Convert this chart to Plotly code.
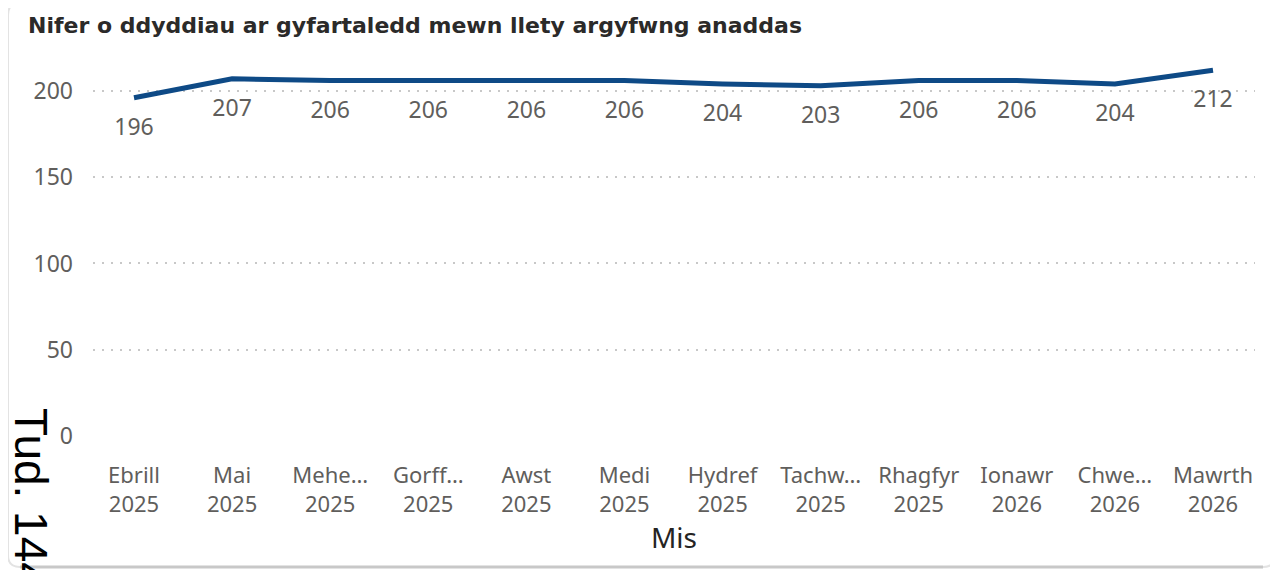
import plotly.graph_objects as go

months = ["Ebrill<br>2025", "Mai<br>2025", "Mehe…<br>2025", "Gorff…<br>2025", "Awst<br>2025",
          "Medi<br>2025", "Hydref<br>2025", "Tachw…<br>2025", "Rhagfyr<br>2025", "Ionawr<br>2026",
          "Chwe…<br>2026", "Mawrth<br>2026"]
values = [196, 207, 206, 206, 206, 206, 204, 203, 206, 206, 204, 212]
y_ticks = [0, 50, 100, 150, 200]

# page body adds an 8px offset; work in screen pixels and shift
OFF = 8
W, H = 1270, 562
L, R, T, B = 85, 23, 57, 134
PW, PH = W - L - R, H - T - B


def px(x):  # screen x -> paper
    return (x - OFF - L) / PW


def py(y):  # screen y -> paper
    return (H - B - (y - OFF)) / PH


fig = go.Figure()
fig.add_trace(go.Scatter(
    x=list(range(len(months))), y=values, mode="lines",
    line=dict(color="#0E4A86", width=5), hoverinfo="skip",
))
fig.add_trace(go.Scatter(
    x=list(range(len(months))), y=values, mode="markers+text",
    marker=dict(size=30, color="rgba(0,0,0,0)"),
    text=[str(v) for v in values], textposition="bottom center",
    textfont=dict(family="Noto Sans", size=23, color="#605E5C"),
    hoverinfo="skip", cliponaxis=False,
))

fig.update_layout(
    width=W, height=H,
    margin=dict(l=L, r=R, t=T, b=B),
    paper_bgcolor="white", plot_bgcolor="white",
    showlegend=False,
    title=dict(text="Nifer o ddyddiau ar gyfartaledd mewn llety argyfwng anaddas",
               x=(28 - OFF) / W, xref="container", xanchor="left", y=1 - 10 / H, yref="container", yanchor="top",
               font=dict(family="DejaVu Sans", size=22, color="#2B2A29", weight="bold")),
    xaxis=dict(tickmode="array", tickvals=list(range(len(months))), ticktext=months,
               range=[-0.418, len(months) - 1 + 0.428], showgrid=False, zeroline=False, showline=False,
               tickfont=dict(family="Noto Sans", size=22, color="#605E5C"), ticks="",
               ticklabelstandoff=24, automargin=False,
               title=dict(text="Mis", font=dict(family="Noto Sans", size=28, color="#252423"), standoff=8)),
    yaxis=dict(range=[0, 215], tickvals=y_ticks, showgrid=True, gridcolor="#C8C8C8",
               griddash="2px,7px", gridwidth=1.5, zeroline=False, showline=False, ticks="",
               tickfont=dict(family="Noto Sans", size=23, color="#605E5C"), ticklabelstandoff=19,
               automargin=False),
)

# card border with rounded corners
x0, x1, y0, y1, r = 8, 1275, 3, 567, 12
path = (f"M {px(x0 + r)} {py(y0)} L {px(x1 - r)} {py(y0)} "
        f"Q {px(x1)} {py(y0)} {px(x1)} {py(y0 + r)} L {px(x1)} {py(y1 - r)} "
        f"Q {px(x1)} {py(y1)} {px(x1 - r)} {py(y1)} L {px(x0 + r)} {py(y1)} "
        f"Q {px(x0)} {py(y1)} {px(x0)} {py(y1 - r)} L {px(x0)} {py(y0 + r)} "
        f"Q {px(x0)} {py(y0)} {px(x0 + r)} {py(y0)} Z")
fig.add_shape(type="path", xref="paper", yref="paper", path=path,
              line=dict(color="#E3E3E3", width=2), layer="below")
fig.add_shape(type="line", xref="paper", yref="paper", x0=px(x0 + r), x1=px(x1 - r),
              y0=py(y1), y1=py(y1), line=dict(color="#C8C8C8", width=3), layer="below")

fig.add_annotation(text="Tud. 144", xref="paper", yref="paper",
                   x=px(31), y=py(406), xanchor="center", yanchor="top",
                   textangle=90, showarrow=False,
                   font=dict(family="Liberation Sans", size=46, color="black"))

fig.write_html("out.html")
